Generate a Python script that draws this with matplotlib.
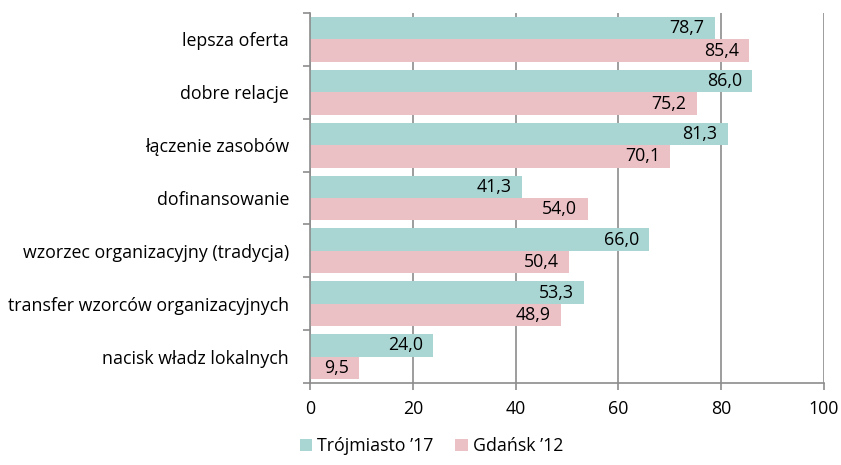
import numpy as np
import matplotlib.pyplot as plt

# dane
kategorie = ["lepsza oferta", "dobre relacje", "łączenie zasobów", "dofinansowanie",
             "wzorzec organizacyjny (tradycja)", "transfer wzorców organizacyjnych",
             "nacisk władz lokalnych"]
trojmiasto_17 = [78.7, 86.0, 81.3, 41.3, 66.0, 53.3, 24.0]
gdansk_12 = [85.4, 75.2, 70.1, 54.0, 50.4, 48.9, 9.5]

plt.rcParams['font.family'] = ['Open Sans', 'DejaVu Sans']
kolor1 = '#A9D6D3'
kolor2 = '#EBC1C6'
szary = '#8C8C8C'
fs = 12.8

fig = plt.figure(figsize=(8.41, 4.65), dpi=100)
ax = fig.add_axes([0.3686, 0.1763, 0.6112, 0.7957])

y = np.arange(len(kategorie))
h = 0.425
b1 = ax.barh(y - h / 2, trojmiasto_17, height=h, color=kolor1, label="Trójmiasto ’17", zorder=2)
b2 = ax.barh(y + h / 2, gdansk_12, height=h, color=kolor2, label="Gdańsk ’12", zorder=2)

for bars, vals in ((b1, trojmiasto_17), (b2, gdansk_12)):
    for r, v in zip(bars, vals):
        ax.text(r.get_width() - 2.0, r.get_y() + r.get_height() / 2,
                f"{v:.1f}".replace('.', ','), ha='right', va='center',
                fontsize=fs, color='black', zorder=3)

ax.set_xlim(0, 100)
ax.set_ylim(len(kategorie) - 0.5, -0.5)
ax.set_xticks(range(0, 101, 20))
ax.set_yticks(y)
ax.set_yticklabels(kategorie, fontsize=fs)
ax.set_yticks(np.arange(-0.5, len(kategorie)), minor=True)
ax.tick_params(axis='y', which='major', length=0, pad=15)
ax.tick_params(axis='y', which='minor', length=5, color=szary, width=1.2)
ax.tick_params(axis='x', length=5, color=szary, width=1.2, labelsize=fs, pad=7)
ax.xaxis.grid(True, color=szary, linewidth=1.2, zorder=0)
ax.set_axisbelow(True)
for s in ['top', 'right']:
    ax.spines[s].set_visible(False)
for s in ['left', 'bottom']:
    ax.spines[s].set_color(szary)
    ax.spines[s].set_linewidth(1.2)

fig.legend(handles=[b1, b2], loc='center', bbox_to_anchor=(0.513, 0.04), ncol=2,
           frameon=False, fontsize=fs, handlelength=0.7, handleheight=0.7,
           handletextpad=0.3, columnspacing=1.2)

plt.savefig('out.png', dpi=100)
